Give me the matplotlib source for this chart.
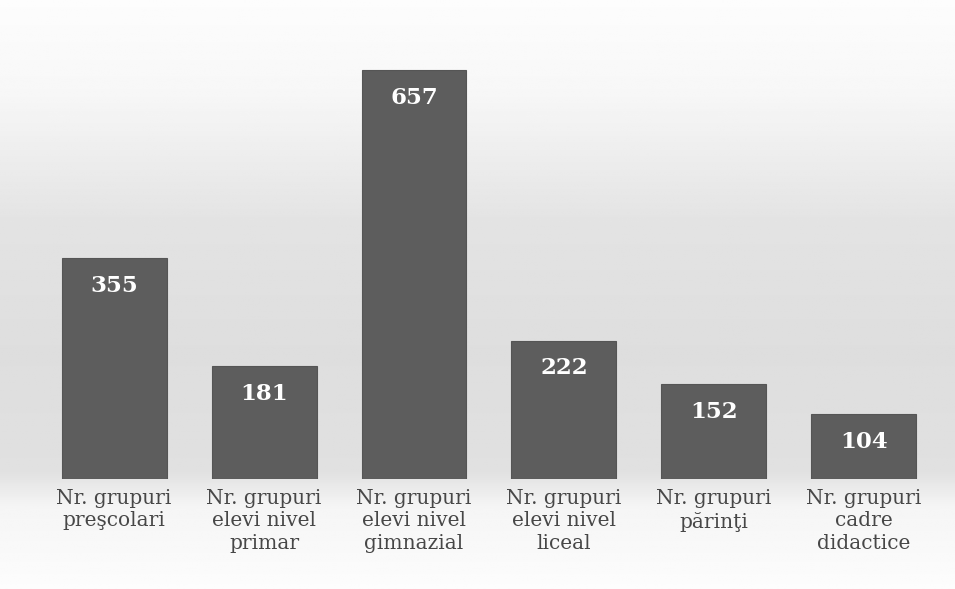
import numpy as np
import matplotlib
matplotlib.use("Agg")
import matplotlib.pyplot as plt

plt.rcParams["font.family"] = ["DejaVu Serif", "Liberation Serif"]

categories = ["Nr. grupuri\npreşcolari", "Nr. grupuri\nelevi nivel\nprimar",
              "Nr. grupuri\nelevi nivel\ngimnazial", "Nr. grupuri\nelevi nivel\nliceal",
              "Nr. grupuri\npărinţi", "Nr. grupuri\ncadre\ndidactice"]
values = [355, 181, 657, 222, 152, 104]

fig = plt.figure(figsize=(9.55, 5.89), dpi=100)

# scanned-paper grey gradient behind the chart
bg = fig.add_axes([0, 0, 1, 1], zorder=0)
rows = np.linspace(0, 1, 300)
shade = np.interp(rows, [0, 0.15, 0.38, 0.6, 0.8, 0.86, 1.0],
                  [0.99, 0.97, 0.89, 0.87, 0.88, 0.96, 0.99])
bg.imshow(np.tile(shade[:, None], (1, 10)), cmap="gray", vmin=0, vmax=1,
          aspect="auto", extent=[0, 1, 0, 1], origin="upper")
bg.axis("off")

ax = fig.add_axes([0.041, 0.187, 0.942, 0.740], zorder=1)
ax.patch.set_alpha(0)
x = np.arange(len(values))
bars = ax.bar(x, values, width=0.70, color="#5d5d5d", edgecolor="#555555", lw=0.8)
for b, v in zip(bars, values):
    ax.annotate(str(v), (b.get_x() + b.get_width() / 2, v), xytext=(0, -20),
                textcoords="offset points", ha="center", va="center",
                color="white", fontsize=16.5, fontweight="bold")
ax.set_xlim(-0.5, 5.5)
ax.set_ylim(0, 700)
ax.set_xticks(x)
ax.set_xticklabels(categories, fontsize=14.5, color="#474747", linespacing=1.25)
ax.tick_params(axis="x", length=0, pad=7)
ax.set_yticks([])
for s in ax.spines.values():
    s.set_visible(False)

fig.savefig("out.png", dpi=100)
